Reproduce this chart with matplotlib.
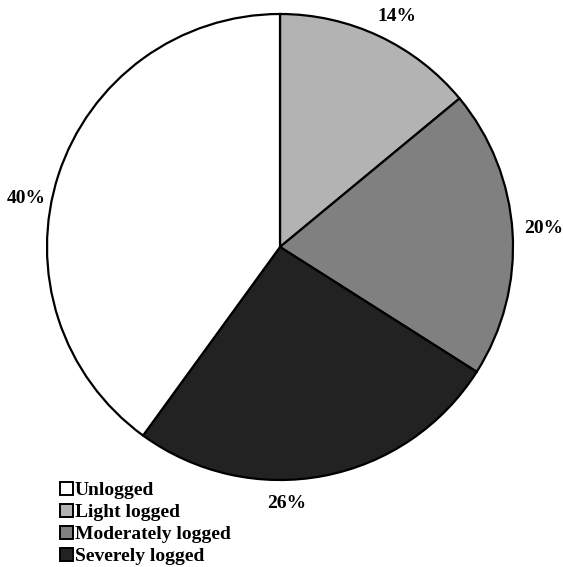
import matplotlib
matplotlib.use('Agg')
import matplotlib.pyplot as plt
from matplotlib.patches import Patch

plt.rcParams['font.family'] = ['Liberation Serif', 'DejaVu Serif']

# legend order
categories = ['Unlogged', 'Light logged', 'Moderately logged', 'Severely logged']
shares = [40, 14, 20, 26]
colors = ['#ffffff', '#b3b3b3', '#808080', '#222222']

# drawing order clockwise from 12 o'clock
order = [1, 2, 3, 0]
vals = [shares[i] for i in order]
cols = [colors[i] for i in order]
# label spots (axes data units, pie radius = 1), placed by hand in the original
label_xy = [(0.50, 0.99), (1.13, 0.08), (0.03, -1.10), (-1.09, 0.21)]

fig = plt.figure(figsize=(5.63, 5.67), dpi=100)
ax = fig.add_axes([47/563, (567-247-233)/567, 466/563, 466/567])
wedges, texts, autos = ax.pie(vals, colors=cols, startangle=90, counterclock=False,
                              autopct='%d%%', pctdistance=1.1,
                              wedgeprops=dict(edgecolor='black', linewidth=1.6),
                              textprops=dict(fontsize=14, fontweight='bold', color='black'))
for t, xy in zip(autos, label_xy):
    t.set_position(xy)
    t.set_ha('center')
    t.set_va('center')
ax.set_xlim(-1, 1)
ax.set_ylim(-1, 1)
ax.set_aspect('auto')

handles = [Patch(facecolor=c, edgecolor='black', linewidth=1.4) for c in colors]
fig.legend(handles, categories, loc='upper left', bbox_to_anchor=(60/563, 1-482/567),
           frameon=False, handlelength=0.65, handleheight=0.65,
           handletextpad=0.12, labelspacing=0.24, borderaxespad=0, borderpad=0,
           prop=dict(size=14, weight='bold'))

fig.savefig('out.png', dpi=100)
